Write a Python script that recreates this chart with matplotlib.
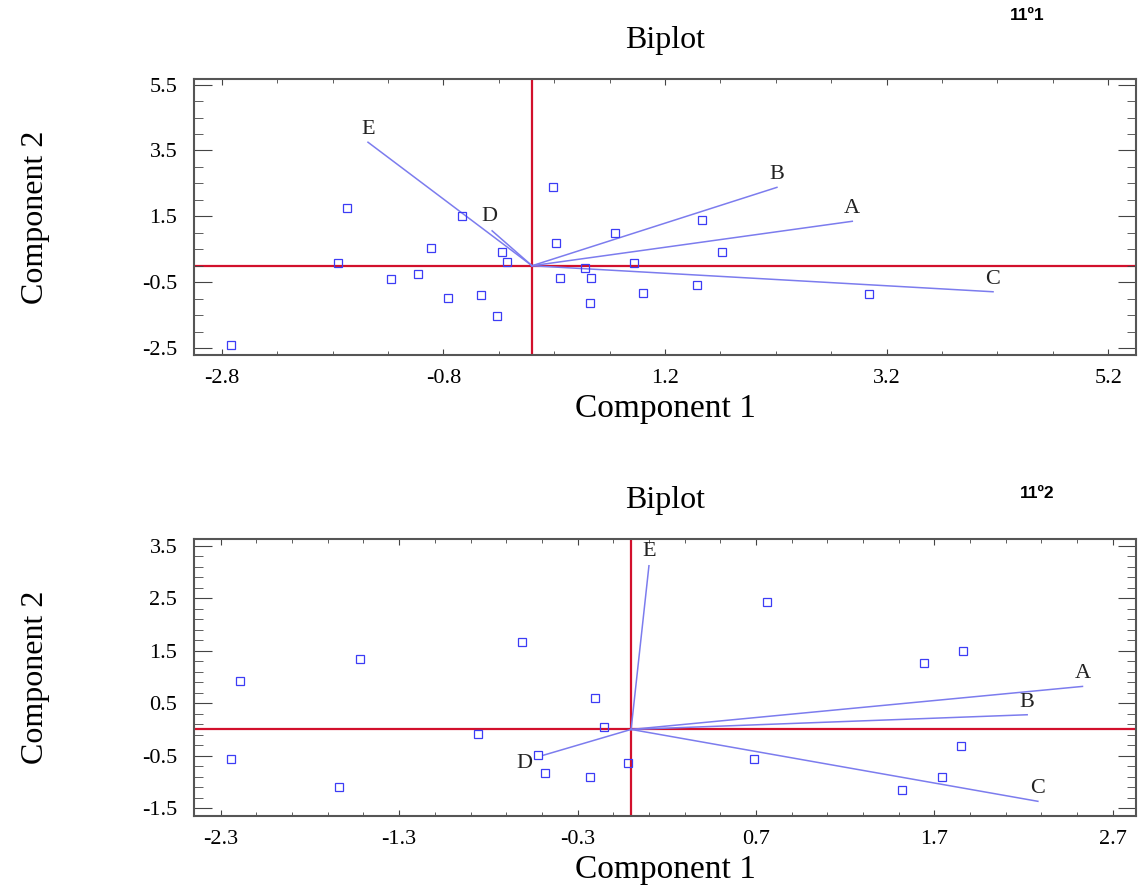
import matplotlib
matplotlib.use('Agg')
import matplotlib.pyplot as plt
from matplotlib.ticker import MultipleLocator, FormatStrFormatter

plt.rcParams['font.family'] = ['Liberation Serif', 'DejaVu Serif']
plt.rcParams['axes.unicode_minus'] = False

# --- biplot 11º1 ---
top_pc1 = [-2.72, -1.67, -1.75, -1.27, -1.03, -0.91, -0.76, -0.63, -0.46, -0.32, -0.27,
           -0.23, 0.19, 0.22, 0.25, 0.48, 0.53, 0.52, 0.75, 0.92, 1.00, 1.53, 1.49, 1.71, 3.04]
top_pc2 = [-2.40, 1.75, 0.08, -0.41, -0.26, 0.53, -0.99, 1.51, -0.88, -1.53, 0.42,
           0.12, 2.38, 0.69, -0.37, -0.07, -0.37, -1.12, 0.99, 0.07, -0.83, 1.39, -0.59, 0.43, -0.87]
top_vars = ['A', 'B', 'C', 'D', 'E']
top_load1 = [2.89, 2.21, 4.16, -0.36, -1.48]
top_load2 = [1.35, 2.38, -0.79, 1.06, 3.75]

# --- biplot 11º2 ---
bot_pc1 = [-2.19, -2.24, -1.52, -1.64, -0.86, -0.61, -0.52, -0.48, -0.23, -0.20, -0.15,
           -0.02, 0.76, 1.64, 1.86, 1.85, 0.69, 1.74, 1.52]
bot_pc2 = [0.92, -0.57, 1.34, -1.09, -0.08, 1.67, -0.49, -0.83, -0.90, 0.59, 0.04,
           -0.64, 2.42, 1.27, 1.50, -0.31, -0.57, -0.90, -1.16]
bot_vars = ['A', 'B', 'C', 'D', 'E']
bot_load1 = [2.53, 2.22, 2.28, -0.49, 0.10]
bot_load2 = [0.82, 0.28, -1.37, -0.49, 3.12]

W, H = 1138, 892
fig = plt.figure(figsize=(W / 100, H / 100), dpi=100)

pt_col = '#3c3cf5'
vec_col = '#7c7cee'
red = '#d2102c'


def biplot(ax, pc1, pc2, names, l1, l2, xlim, ylim, xmaj, xmin, ymaj, ymin, offs):
    ax.set_xlim(*xlim)
    ax.set_ylim(*ylim)
    ax.axhline(0, color=red, lw=1.6, zorder=1)
    ax.axvline(0, color=red, lw=1.6, zorder=1)
    for name, x, y, off in zip(names, l1, l2, offs):
        ax.plot([0, x], [0, y], color=vec_col, lw=1.1, zorder=2)
        ax.annotate(name, (x, y), xytext=off, textcoords='offset points',
                    ha='center', va='center', fontsize=16, color='#222222')
    ax.plot(pc1, pc2, 's', ls='none', mfc='none', mec=pt_col, mew=0.9, ms=5.5, zorder=3)
    ax.xaxis.set_major_locator(MultipleLocator(*xmaj))
    ax.xaxis.set_minor_locator(MultipleLocator(*xmin))
    ax.yaxis.set_major_locator(MultipleLocator(*ymaj))
    ax.yaxis.set_minor_locator(MultipleLocator(*ymin))
    ax.xaxis.set_major_formatter(FormatStrFormatter('%.1f'))
    ax.yaxis.set_major_formatter(FormatStrFormatter('%.1f'))
    ax.tick_params(axis='both', which='both', direction='in', top=True, right=True,
                   color='#444444', labelsize=16)
    ax.tick_params(axis='x', which='major', length=4, pad=10)
    ax.tick_params(axis='x', which='minor', length=3)
    ax.tick_params(axis='y', which='major', length=13, pad=12)
    ax.tick_params(axis='y', which='minor', length=6.5)
    for s in ax.spines.values():
        s.set_color('#555555')
        s.set_linewidth(1.5)
    ax.set_title('Biplot', fontsize=23, pad=22)
    ax.set_xlabel('Component 1', fontsize=24, labelpad=4)
    ax.set_ylabel('Component 2', fontsize=23, labelpad=66)


ax1 = fig.add_axes([194 / W, 1 - 355 / H, 942 / W, 276 / H])
biplot(ax1, top_pc1, top_pc2, top_vars, top_load1, top_load2,
       (-3.05, 5.45), (-2.71, 5.67), (2.0, 1.2), (0.5, 0.2), (2.0, 1.5), (0.5, 0.0),
       [(0, 9), (0, 9), (0, 9), (-2, 10), (0, 9)])

ax2 = fig.add_axes([194 / W, 1 - 816 / H, 942 / W, 277 / H])
biplot(ax2, bot_pc1, bot_pc2, bot_vars, bot_load1, bot_load2,
       (-2.45, 2.83), (-1.65, 3.63), (1.0, 0.7), (0.2, 0.1), (1.0, 0.5), (0.2, 0.1),
       [(0, 9), (0, 9), (0, 9), (-14, -6), (0, 10)])

fig.text(1027 / W, 1 - 15 / H, '11º1', family='Liberation Sans', weight='bold',
         fontsize=12.5, ha='center', va='center')
fig.text(1037 / W, 1 - 493 / H, '11º2', family='Liberation Sans', weight='bold',
         fontsize=12.5, ha='center', va='center')

fig.savefig('out.png', dpi=100)
